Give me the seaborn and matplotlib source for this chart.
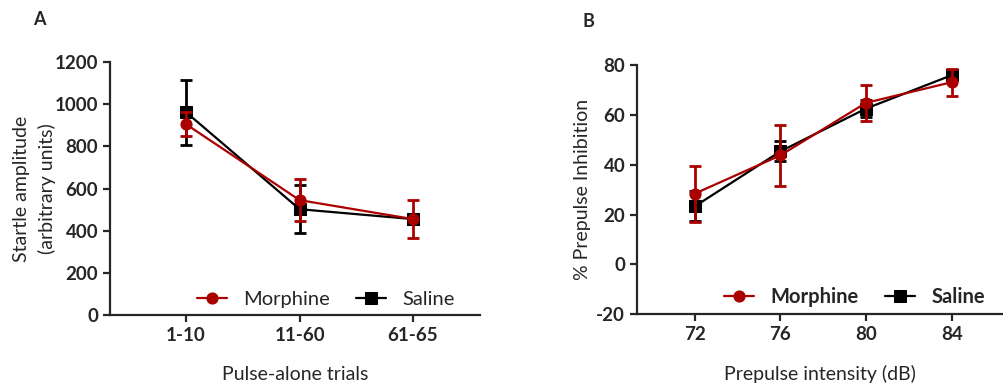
import numpy as np
import pandas as pd
import seaborn as sns
import matplotlib.pyplot as plt

# panel A: startle amplitude
trials = ['1-10', '11-60', '61-65']
morphine_amp = [905, 545, 455]
morphine_amp_err = [58, 100, 90]
saline_amp = [962, 502, 455]
saline_amp_err = [155, 115, 22]

# panel B: prepulse inhibition
intensity = [72, 76, 80, 84]
morphine_ppi = [28.4, 43.8, 64.9, 73.2]
morphine_ppi_err = [11.3, 12.2, 7.3, 5.4]
saline_ppi = [23.3, 45.4, 62.6, 76.0]
saline_ppi_err = [6.0, 4.0, 3.5, 2.0]

red = '#AA0000'
black = '#000000'

sns.set_style('ticks')
plt.rcParams['font.family'] = ['Lato', 'DejaVu Sans']
plt.rcParams['axes.unicode_minus'] = False
plt.rcParams['axes.linewidth'] = 1.6
plt.rcParams['xtick.major.width'] = 1.6
plt.rcParams['ytick.major.width'] = 1.6
plt.rcParams['xtick.major.size'] = 5
plt.rcParams['ytick.major.size'] = 5

fig = plt.figure(figsize=(10.04, 3.85), dpi=100)
ax1 = fig.add_axes([0.1096, 0.1818, 0.3685, 0.657])
ax2 = fig.add_axes([0.6345, 0.1844, 0.3645, 0.646])

pos = np.arange(len(trials))
dfa = pd.DataFrame({
    'x': np.concatenate([pos, pos]),
    'y': saline_amp + morphine_amp,
    'group': ['Saline'] * len(trials) + ['Morphine'] * len(trials),
})
dfb = pd.DataFrame({
    'x': intensity + intensity,
    'y': saline_ppi + morphine_ppi,
    'group': ['Saline'] * len(intensity) + ['Morphine'] * len(intensity),
})


def draw(ax, df, s_err, m_err):
    for grp, col, mk, err, ms in [('Saline', black, 's', s_err, 8.5), ('Morphine', red, 'o', m_err, 8)]:
        sub = df[df['group'] == grp]
        ax.errorbar(sub['x'], sub['y'], yerr=err, fmt='none', ecolor=col,
                    elinewidth=2, capsize=4, capthick=2, zorder=3 if grp == 'Saline' else 5)
        sns.lineplot(data=sub, x='x', y='y', ax=ax, color=col, marker=mk,
                     markersize=ms, markeredgecolor=col, linewidth=1.6,
                     label=grp, zorder=4 if grp == 'Saline' else 6, legend=False)
    sns.despine(ax=ax)


draw(ax1, dfa, saline_amp_err, morphine_amp_err)
draw(ax2, dfb, saline_ppi_err, morphine_ppi_err)

# axes A
ax1.set_ylim(0, 1200)
ax1.set_yticks(range(0, 1201, 200))
ax1.set_xlim(-0.67, 2.59)
ax1.set_xticks(pos)
ax1.set_xticklabels(trials)
ax1.set_xlabel('Pulse-alone trials', fontsize=14, labelpad=16)
ax1.set_ylabel('Startle amplitude\n(arbitrary units)', fontsize=14, labelpad=-1,
               linespacing=1.55)
for lab in ax1.get_xticklabels() + ax1.get_yticklabels():
    lab.set_fontweight('bold')
    lab.set_fontsize(13.5)

# axes B
ax2.set_ylim(-20, 80)
ax2.set_yticks(range(-20, 81, 20))
ax2.set_xlim(69.3, 86.4)
ax2.set_xticks(intensity)
ax2.set_xlabel('Prepulse intensity (dB)', fontsize=14, labelpad=16)
ax2.set_ylabel('% Prepulse Inhibition', fontsize=14, labelpad=4)
for lab in ax2.get_xticklabels() + ax2.get_yticklabels():
    lab.set_fontweight('bold')
    lab.set_fontsize(13.5)

# legends (Morphine first)
for ax, bold, xa in [(ax1, False, 0.98), (ax2, True, 1.0)]:
    h, l = ax.get_legend_handles_labels()
    order = [l.index('Morphine'), l.index('Saline')]
    ax.legend([h[i] for i in order], [l[i] for i in order], loc='lower right',
              bbox_to_anchor=(xa, -0.045), ncol=2, frameon=False,
              handlelength=1.5, columnspacing=1.3, handletextpad=0.8,
              prop={'size': 14.5, 'weight': 'bold' if bold else 'normal'})

fig.text(0.033, 0.935, 'A', fontsize=13, fontweight='bold')
fig.text(0.580, 0.93, 'B', fontsize=13, fontweight='bold')

fig.savefig('out.png', dpi=100)
